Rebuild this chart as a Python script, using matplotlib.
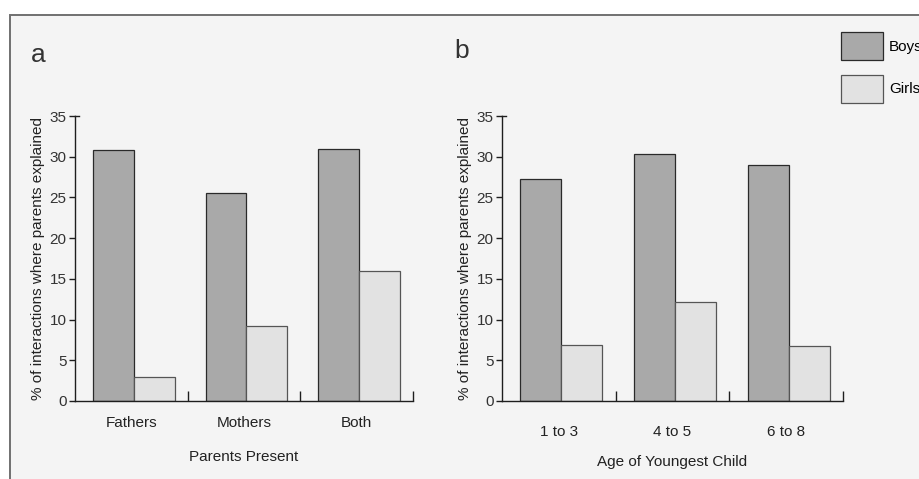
import numpy as np
import matplotlib
matplotlib.use("Agg")
import matplotlib.pyplot as plt
import matplotlib.patches as mpatches

plt.rcParams["font.family"] = ["Liberation Sans", "DejaVu Sans"]
plt.rcParams["font.size"] = 11

# ── data ────────────────────────────────────────────────────
parents = ["Fathers", "Mothers", "Both"]
boys_parents = [30.8, 25.6, 31.0]
girls_parents = [3.0, 9.2, 16.0]

ages = ["1 to 3", "4 to 5", "6 to 8"]
boys_age = [27.3, 30.3, 29.0]
girls_age = [6.9, 12.2, 6.8]

y_ticks = [0, 5, 10, 15, 20, 25, 30, 35]
ylabel = "% of interactions where parents explained"

BOYS_C = "#a9a9a9"
GIRLS_C = "#e2e2e2"
EDGE_C = "#2a2a2a"
AXIS_C = "#1e1e1e"

W, H = 920, 479
fig = plt.figure(figsize=(W / 100, H / 100), dpi=100)
fig.patch.set_facecolor("white")

# scanned page frame (kept behind the axes)
fig.patches.append(mpatches.Rectangle(
    (10 / W, -0.05), 1.1, 1 - 15.5 / H + 0.05, transform=fig.transFigure,
    facecolor="#f4f4f4", edgecolor="#707070", linewidth=1.4, zorder=-5))


def panel(rect, cats, boys, girls, xlabel, tickpad, labpad):
    ax = fig.add_axes(rect)
    ax.patch.set_alpha(0)
    x = np.arange(len(cats))
    w = 0.362
    off = 0.022
    ax.bar(x - w / 2 + off, boys, w, color=BOYS_C, edgecolor=EDGE_C,
           linewidth=0.9, zorder=2)
    ax.bar(x + w / 2 + off, girls, w, color=GIRLS_C, edgecolor="#555555",
           linewidth=0.9, zorder=2)
    ax.set_xlim(-0.5, len(cats) - 0.5)
    ax.set_ylim(y_ticks[0], y_ticks[-1])
    ax.set_yticks(y_ticks)
    ax.set_xticks(x)
    ax.set_xticklabels(cats)
    ax.set_xticks(x + 0.5, minor=True)
    ax.tick_params(axis="x", which="major", length=0, pad=tickpad,
                   labelsize=11, colors="#222222")
    ax.tick_params(axis="x", which="minor", direction="in", length=7,
                   width=1, color=AXIS_C)
    ax.tick_params(axis="y", direction="out", length=4.5, width=1,
                   pad=1.5, labelsize=11, color=AXIS_C,
                   labelcolor="#333333")
    for s in ["top", "right"]:
        ax.spines[s].set_visible(False)
    for s in ["left", "bottom"]:
        ax.spines[s].set_color(AXIS_C)
        ax.spines[s].set_linewidth(1)
    # small cap at the top of the y axis
    ax.plot([0, 0.012], [y_ticks[-1], y_ticks[-1]], color=AXIS_C, lw=1,
            transform=ax.get_yaxis_transform(), clip_on=False)
    ax.set_xlabel(xlabel, fontsize=11, labelpad=labpad, color="#222222")
    ax.set_ylabel(ylabel, fontsize=11, labelpad=3, color="#222222")
    return ax


bottom = (H - 401) / H
height = 285 / H
ax_a = panel([75 / W, bottom, 338 / W, height], parents, boys_parents,
             girls_parents, "Parents Present", 11, 14)
ax_b = panel([502 / W, bottom, 341 / W, height], ages, boys_age,
             girls_age, "Age of Youngest Child", 17, 12)

fig.text(31 / W, 1 - 62 / H, "a", fontsize=19, color="#333333")
fig.text(454 / W, 1 - 58 / H, "b", fontsize=19, color="#333333")

handles = [mpatches.Patch(facecolor=BOYS_C, edgecolor=EDGE_C, linewidth=0.9),
           mpatches.Patch(facecolor=GIRLS_C, edgecolor="#555555", linewidth=0.9)]
fig.legend(handles, ["Boys", "Girls"], loc="upper left",
           bbox_to_anchor=(841 / W, 1 - 32 / H), frameon=False,
           borderpad=0, borderaxespad=0, handlelength=2.75, handleheight=2.45,
           labelspacing=0.95, handletextpad=0.4, fontsize=11)

fig.savefig("out.png", dpi=100)
